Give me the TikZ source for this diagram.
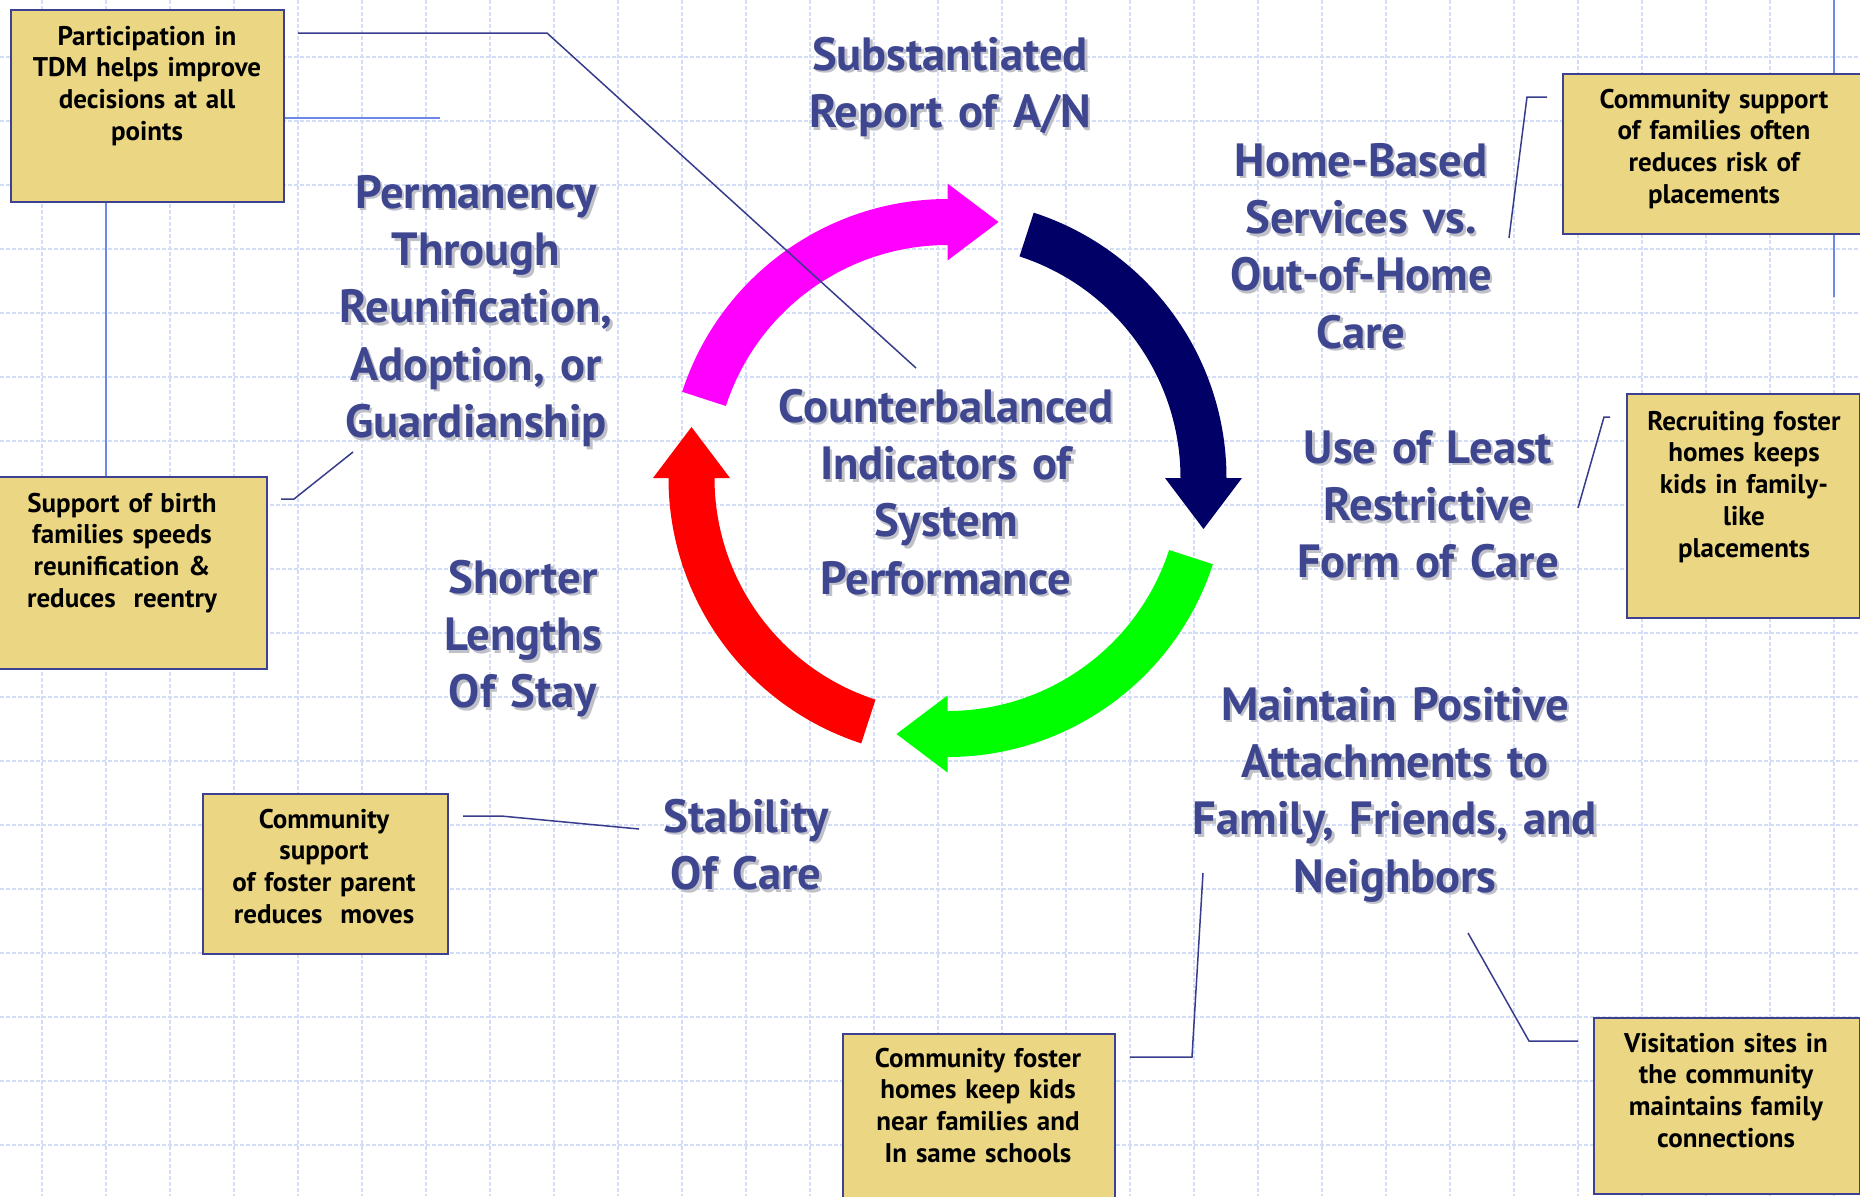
\documentclass[tikz,border=0pt]{standalone}
\usepackage{fontspec}
\setmainfont{PT Sans}
\usetikzlibrary{calc}
\definecolor{lblblue}{RGB}{62,70,143}
\definecolor{boxfill}{RGB}{235,215,131}
\definecolor{boxline}{RGB}{60,66,145}
\definecolor{leader}{RGB}{55,60,140}
\definecolor{lightlead}{RGB}{110,135,235}
\definecolor{gridc}{RGB}{212,221,247}
\definecolor{shadowc}{RGB}{192,192,200}
\definecolor{navyarrow}{RGB}{0,0,102}
\definecolor{arrmagenta}{RGB}{255,0,255}
\definecolor{arrgreen}{RGB}{0,255,0}
\definecolor{arrred}{RGB}{255,0,0}
\tikzset{
 calloutbox/.style={draw=boxline, fill=boxfill, line width=1.15pt, rectangle, inner sep=0pt, anchor=north west},
 callouttext/.style={text=black, font=\fontsize{13.5}{15.9}\selectfont\bfseries, align=center, text width=160pt, anchor=base, inner sep=0pt},
 biglabel/.style={text=lblblue, font=\fontsize{23.3}{28.7}\selectfont\bfseries, align=center, text width=300pt, anchor=base, inner sep=0pt},
 bigshadow/.style={biglabel, text=shadowc},
 leadline/.style={draw=leader, line width=0.75pt},
 lightline/.style={draw=lightlead, line width=1pt},
 gridline/.style={draw=gridc, line width=0.6pt, dash pattern=on 2pt off 1pt},
}
\newcommand{\biglbl}[4]{%
  \node[bigshadow] (#1-s) at ([shift={(1.3pt,-1.3pt)}]#2,#3) {#4};
  \node[biglabel] (#1) at (#2,#3) {#4};}
\newcommand{\cycarrow}[3]{%
  \fill[#1] ($(C)+(#2:139.5pt)$) arc[start angle=#2, end angle=#3, radius=139.5pt]
   -- ($(C)+(#3:147.25pt)$) -- ($(C)+(#3:128pt)+(#3-90:25.5pt)$)
   -- ($(C)+(#3:108.75pt)$) -- ($(C)+(#3:116.5pt)$)
   arc[start angle=#3, end angle=#2, radius=116.5pt] -- cycle;}
\begin{document}
\begin{tikzpicture}[x=0.5pt,y=0.5pt]
\fill[white] (0,0) rectangle (1860,-1196);
\useasboundingbox (0,0) rectangle (1860,-1196);
% grid
\foreach \i in {0,...,28} \draw[gridline] ({42+64*\i},0) -- ({42+64*\i},-1196);
\foreach \j in {0,...,17} \draw[gridline] (0,{-57-64*\j}) -- (1860,{-57-64*\j});

% cycle arrows
\coordinate (C) at (947.5,-478);
\cycarrow{arrmagenta}{162}{90}
\cycarrow{navyarrow}{72}{0}
\cycarrow{arrgreen}{-18}{-90}
\cycarrow{arrred}{-108}{-180}

% light blue connectors (behind boxes)
\coordinate (vx) at (106,0);
\coordinate (lb1) at (440,-118);
\coordinate (rvtop) at (1834,0);
\coordinate (rvbot) at (1834,-297);
\draw[lightline] (rvtop) -- (rvbot);

% callout boxes
\node[calloutbox, minimum width=136.5pt, minimum height=96pt] (b1) at (10,-9) {};
\node[calloutbox, minimum width=134.5pt, minimum height=96pt] (b2) at (-3,-476) {};
\node[calloutbox, minimum width=122.5pt, minimum height=80pt] (b3) at (202,-793) {};
\node[calloutbox, minimum width=136pt, minimum height=84pt] (b4) at (842,-1033) {};
\node[calloutbox, minimum width=133pt, minimum height=88pt] (b5) at (1593,-1017) {};
\node[calloutbox, minimum width=152pt, minimum height=80pt] (b6) at (1562,-73) {};
\node[calloutbox, minimum width=116.5pt, minimum height=112pt] (b7) at (1626,-393) {};

\draw[lightline] (b1.east |- lb1) -- (lb1);
\draw[lightline] (b1.south -| vx) -- (b2.north -| vx);

% callout texts
\node[callouttext] (t1) at (147,-45) {Participation in\\TDM helps improve\\decisions at all\\points};
\node[callouttext] (t2) at (122,-512) {Support of birth\\families speeds\\reunification \&\\reduces\ \ reentry};
\node[callouttext] (t3) at (324,-828) {Community\\support\\of foster parent\\reduces\ \ moves};
\node[callouttext] (t4) at (978,-1067) {Community foster\\homes keep kids\\near families and\\In same schools};
\node[callouttext] (t5) at (1726,-1052) {Visitation sites in\\the community\\maintains family\\connections};
\node[callouttext] (t6) at (1714,-108) {Community support\\of families often\\reduces risk of\\placements};
\node[callouttext] (t7) at (1744,-430) {Recruiting foster\\homes keeps\\kids in family-\\like\\placements};

% big labels
\biglbl{sub}{950}{-70}{Substantiated\\Report of A/N}
\biglbl{perm}{476}{-208}{Permanency\\Through\\Reunification,\\Adoption, or\\Guardianship}
\biglbl{home}{1361}{-176}{Home-Based\\Services vs.\\Out-of-Home\\Care}
\biglbl{use}{1428}{-463}{Use of Least\\Restrictive\\Form of Care}
\biglbl{cnt}{946}{-422}{Counterbalanced\\Indicators of\\System\\Performance}
\biglbl{short}{523}{-593}{Shorter\\Lengths\\Of Stay}
\biglbl{stab}{746}{-832}{Stability\\Of Care}
\biglbl{maint}{1395}{-720}{Maintain Positive\\Attachments to\\Family, Friends, and\\Neighbors}

% dark leader lines
\coordinate (l1a) at (298,-33); \coordinate (l1b) at (547,-33); \coordinate (l1c) at (916,-368);
\draw[leadline] (l1a) -- (l1b) -- (l1c);
\coordinate (l2a) at (281,-499); \coordinate (l2b) at (294,-499); \coordinate (l2c) at (353,-452);
\draw[leadline] (l2a) -- (l2b) -- (l2c);
\coordinate (l3a) at (463,-816); \coordinate (l3b) at (501,-816); \coordinate (l3c) at (639,-829);
\draw[leadline] (l3a) -- (l3b) -- (l3c);
\coordinate (l4a) at (1130,-1057); \coordinate (l4b) at (1192,-1057); \coordinate (l4c) at (1203,-873);
\draw[leadline] (l4a) -- (l4b) -- (l4c);
\coordinate (l5a) at (1468,-933); \coordinate (l5b) at (1529,-1041); \coordinate (l5c) at (1578,-1041);
\draw[leadline] (l5a) -- (l5b) -- (l5c);
\coordinate (l6a) at (1547,-97); \coordinate (l6b) at (1527,-97); \coordinate (l6c) at (1509,-238);
\draw[leadline] (l6a) -- (l6b) -- (l6c);
\coordinate (l7a) at (1610,-417); \coordinate (l7b) at (1604,-417); \coordinate (l7c) at (1578,-508);
\draw[leadline] (l7a) -- (l7b) -- (l7c);
\end{tikzpicture}
\end{document}
